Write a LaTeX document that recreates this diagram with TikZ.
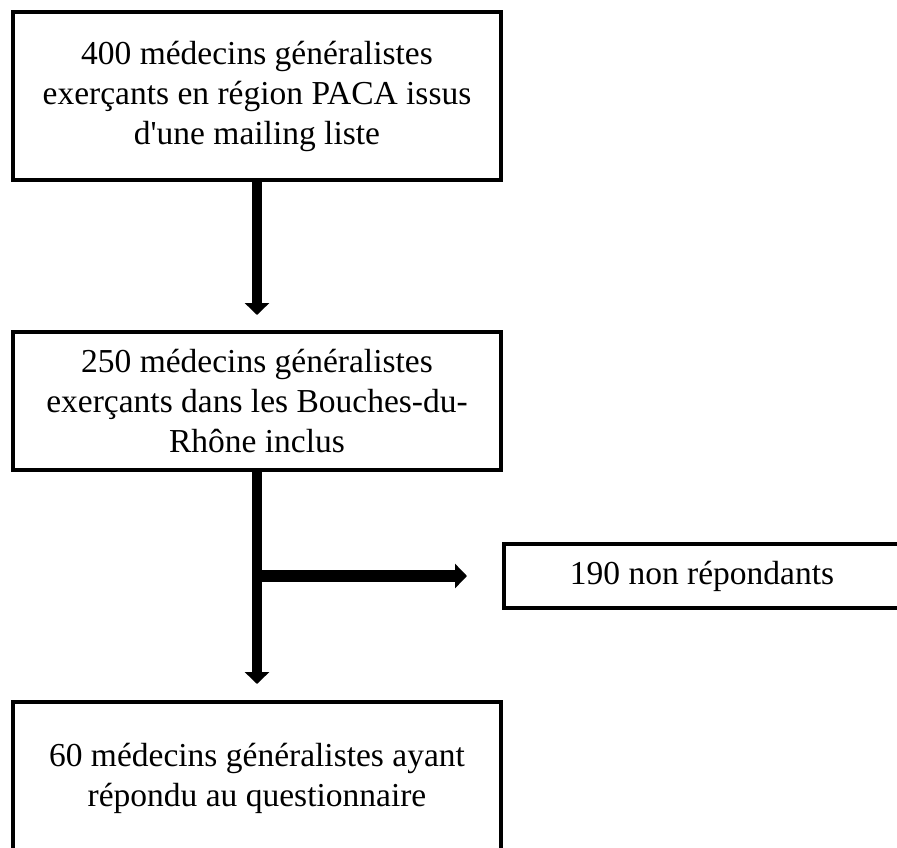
\documentclass[tikz,border=0pt]{standalone}
\usepackage{fontspec}
\setmainfont{Liberation Serif}
\usetikzlibrary{arrows.meta}
\tikzset{
  etape/.style={draw, line width=4pt, rectangle, align=center, inner sep=0pt,
    font=\fontsize{33.5}{40}\selectfont},
  fleche/.style={draw, line width=10pt, -{Triangle[width=24pt,length=12pt]}}
}
\begin{document}
\begin{tikzpicture}[x=1pt,y=-1pt]
\useasboundingbox (0,0) rectangle (897,847);
\node[etape, minimum width=488pt, minimum height=168pt] (pop) at (257,96) {400 médecins généralistes\\exerçants en région PACA issus\\d\textquotesingle une mailing liste};
\node[etape, minimum width=488pt, minimum height=138pt] (inclus) at (257,401) {250 médecins généralistes\\exerçants dans les Bouches-du-\\Rhône inclus};
\node[etape, minimum width=396pt, minimum height=64pt] (nonrep) at (702,576) {190 non répondants};
\node[etape, minimum width=488pt, minimum height=152pt] (rep) at (257,778) {60 médecins généralistes ayant\\répondu au questionnaire};
\coordinate (split) at (inclus.south |- nonrep.west);
\path[fleche, shorten >=15pt] (pop) -- (inclus);
\path[fleche, shorten >=16pt] (inclus) -- (rep);
\path[fleche, line width=12pt, shorten >=35pt] (split) -- (nonrep.west);
\end{tikzpicture}
\end{document}
